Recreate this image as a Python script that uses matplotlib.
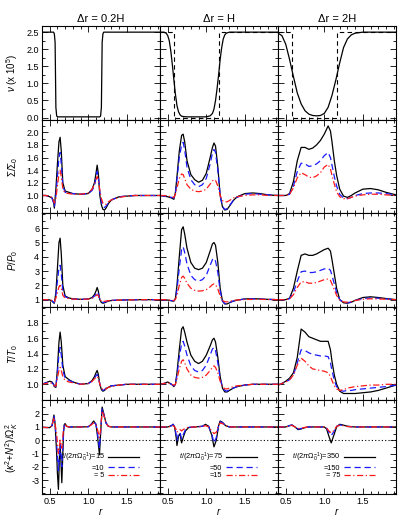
import matplotlib
matplotlib.use("Agg")
import matplotlib.pyplot as plt
from matplotlib.ticker import MultipleLocator, AutoMinorLocator

plt.rcParams['font.family'] = ['Liberation Sans', 'DejaVu Sans']
plt.rcParams['mathtext.fontset'] = 'custom'
plt.rcParams['mathtext.rm'] = 'Liberation Sans'
plt.rcParams['mathtext.it'] = 'Liberation Sans:italic'
plt.rcParams['mathtext.bf'] = 'Liberation Sans:bold'
plt.rcParams['axes.unicode_minus'] = False

# ---------------- data ----------------
col_titles = ["Δr = 0.2H", "Δr = H", "Δr = 2H"]
legend_vals = [["15", "10", " 5"], ["75", "50", "15"], ["350", "150", " 75"]]

# row 1: viscosity
nu_step_r = [0.40, 0.58, 0.58, 1.17, 1.17, 1.93]
nu_step_v = [2.5, 2.5, 0.0, 0.0, 2.5, 2.5]
nu1_r = [0.40, 0.55, 0.56, 0.57, 0.575, 0.58, 0.59, 0.60, 1.15, 1.16, 1.17, 1.175, 1.18, 1.19, 1.20, 1.93]
nu1_v = [2.5, 2.5, 2.45, 2.2, 1.25, 0.3, 0.05, 0.02, 0.02, 0.05, 0.3, 1.25, 2.2, 2.45, 2.5, 2.5]
nu2_r = [0.40, 0.45, 0.48, 0.50, 0.52, 0.54, 0.56, 0.58, 0.60, 0.62, 0.64, 0.66, 0.68, 0.70, 0.75,
         1.00, 1.05, 1.08, 1.10, 1.12, 1.14, 1.16, 1.18, 1.20, 1.22, 1.24, 1.26, 1.30, 1.93]
nu2_v = [2.5, 2.5, 2.47, 2.4, 2.25, 1.95, 1.55, 1.1, 0.68, 0.35, 0.17, 0.08, 0.04, 0.03, 0.02,
         0.02, 0.05, 0.12, 0.25, 0.5, 0.85, 1.25, 1.7, 2.05, 2.3, 2.42, 2.47, 2.5, 2.5]
nu3_r = [0.40, 0.45, 0.50, 0.55, 0.60, 0.65, 0.70, 0.75, 0.80, 0.85, 0.90, 0.95, 1.00, 1.05,
         1.10, 1.15, 1.20, 1.25, 1.30, 1.35, 1.40, 1.50, 1.93]
nu3_v = [2.47, 2.4, 2.15, 1.7, 1.2, 0.72, 0.4, 0.2, 0.1, 0.06, 0.05, 0.06, 0.12, 0.3,
         0.65, 1.1, 1.6, 2.05, 2.3, 2.42, 2.47, 2.5, 2.5]

# column 1 (dr = 0.2H), rows 2-4
r1 = [0.40, 0.45, 0.50, 0.53, 0.55, 0.56, 0.58, 0.60, 0.62, 0.635, 0.65, 0.67, 0.70, 0.75, 0.80,
      0.90, 1.00, 1.05, 1.08, 1.10, 1.115, 1.13, 1.15, 1.17, 1.19, 1.21, 1.23, 1.26, 1.30, 1.40,
      1.50, 1.60, 1.70, 1.80, 1.93]
sig1_a = [1.0, 1.0, 0.98, 0.96, 0.9, 0.8, 1.1, 1.5, 1.85, 1.92, 1.7, 1.2, 1.07, 1.05, 1.03,
          1.02, 1.03, 1.1, 1.2, 1.35, 1.48, 1.35, 1.0, 0.85, 0.78, 0.77, 0.8, 0.87, 0.93, 0.98,
          0.99, 1.0, 1.0, 1.0, 1.0]
sig1_b = [1.0, 1.0, 0.99, 0.96, 0.88, 0.82, 1.0, 1.3, 1.6, 1.68, 1.5, 1.15, 1.05, 1.04, 1.03,
          1.02, 1.03, 1.08, 1.15, 1.28, 1.38, 1.3, 1.05, 0.9, 0.82, 0.81, 0.83, 0.88, 0.93, 0.98,
          0.99, 1.0, 1.0, 1.0, 1.0]
sig1_c = [1.0, 1.0, 0.99, 0.97, 0.92, 0.88, 0.95, 1.15, 1.35, 1.4, 1.3, 1.1, 1.04, 1.03, 1.02,
          1.02, 1.04, 1.1, 1.18, 1.25, 1.3, 1.25, 1.08, 0.95, 0.88, 0.86, 0.86, 0.9, 0.93, 0.97,
          0.99, 1.0, 1.0, 1.0, 1.0]
p1_a = [1.0, 1.0, 0.98, 0.9, 0.78, 0.75, 1.5, 3.2, 5.0, 5.3, 4.2, 2.0, 1.25, 1.12, 1.06,
        1.02, 1.04, 1.15, 1.35, 1.6, 1.85, 1.6, 1.0, 0.8, 0.75, 0.78, 0.83, 0.9, 0.94, 0.97,
        0.98, 0.99, 1.0, 1.0, 1.0]
p1_b = [1.0, 1.0, 0.98, 0.92, 0.82, 0.8, 1.3, 2.3, 3.2, 3.4, 2.8, 1.6, 1.2, 1.1, 1.05,
        1.02, 1.04, 1.12, 1.25, 1.4, 1.55, 1.4, 1.0, 0.85, 0.8, 0.82, 0.86, 0.91, 0.95, 0.97,
        0.98, 0.99, 1.0, 1.0, 1.0]
p1_c = [1.0, 1.0, 0.99, 0.94, 0.88, 0.86, 1.1, 1.5, 1.9, 2.0, 1.8, 1.3, 1.12, 1.07, 1.04,
        1.02, 1.04, 1.1, 1.2, 1.28, 1.35, 1.28, 1.02, 0.9, 0.88, 0.88, 0.9, 0.93, 0.95, 0.97,
        0.98, 0.99, 1.0, 1.0, 1.0]
t1_a = [1.0, 1.02, 1.04, 1.03, 1.0, 0.97, 0.96, 1.2, 1.55, 1.68, 1.55, 1.25, 1.1, 1.06, 1.03,
        1.0, 1.01, 1.05, 1.1, 1.15, 1.18, 1.13, 1.0, 0.93, 0.91, 0.92, 0.94, 0.96, 0.98, 0.99,
        1.0, 1.0, 1.0, 1.0, 1.0]
t1_b = [1.0, 1.02, 1.03, 1.02, 1.0, 0.98, 0.97, 1.15, 1.4, 1.48, 1.38, 1.18, 1.08, 1.05, 1.03,
        1.0, 1.01, 1.04, 1.08, 1.11, 1.13, 1.1, 1.0, 0.94, 0.92, 0.93, 0.95, 0.97, 0.98, 0.99,
        1.0, 1.0, 1.0, 1.0, 1.0]
t1_c = [1.0, 1.01, 1.02, 1.01, 1.0, 0.98, 0.98, 1.08, 1.18, 1.22, 1.18, 1.1, 1.05, 1.03, 1.02,
        1.0, 1.01, 1.04, 1.07, 1.09, 1.1, 1.08, 1.0, 0.95, 0.93, 0.93, 0.94, 0.96, 0.97, 0.99,
        1.0, 1.0, 1.0, 1.0, 1.0]

# column 2 (dr = H), rows 2-4
r2 = [0.40, 0.45, 0.50, 0.55, 0.58, 0.60, 0.62, 0.65, 0.68, 0.70, 0.72, 0.75, 0.80, 0.85, 0.90,
      0.95, 1.00, 1.05, 1.08, 1.10, 1.12, 1.15, 1.18, 1.21, 1.24, 1.27, 1.30, 1.35, 1.40, 1.50,
      1.60, 1.70, 1.80, 1.93]
sig2_a = [1.0, 0.99, 0.98, 0.96, 0.94, 1.05, 1.3, 1.7, 1.95, 1.97, 1.85, 1.55, 1.33, 1.25, 1.21,
          1.24, 1.35, 1.6, 1.76, 1.83, 1.78, 1.45, 1.0, 0.82, 0.77, 0.78, 0.83, 0.92, 0.98, 1.03,
          1.04, 1.03, 1.01, 1.0]
sig2_b = [1.0, 0.99, 0.98, 0.97, 0.96, 1.03, 1.25, 1.6, 1.8, 1.84, 1.72, 1.45, 1.25, 1.17, 1.14,
          1.17, 1.27, 1.5, 1.67, 1.73, 1.68, 1.4, 1.0, 0.83, 0.78, 0.79, 0.84, 0.92, 0.97, 1.02,
          1.03, 1.02, 1.01, 1.0]
sig2_c = [1.0, 1.0, 0.99, 0.98, 0.97, 1.02, 1.12, 1.27, 1.34, 1.33, 1.27, 1.17, 1.1, 1.07, 1.06,
          1.07, 1.1, 1.18, 1.23, 1.25, 1.24, 1.15, 1.0, 0.92, 0.9, 0.9, 0.92, 0.96, 0.98, 1.0,
          1.01, 1.01, 1.0, 1.0]
p2_a = [1.0, 0.99, 0.97, 0.92, 0.9, 1.1, 2.0, 4.0, 5.9, 6.1, 5.6, 4.6, 3.6, 3.2, 3.1,
        3.2, 3.6, 4.4, 4.9, 5.0, 4.8, 3.6, 1.8, 0.9, 0.7, 0.7, 0.78, 0.9, 0.97, 1.05,
        1.07, 1.05, 1.02, 1.0]
p2_b = [1.0, 0.99, 0.97, 0.93, 0.92, 1.05, 1.7, 3.2, 4.5, 4.7, 4.3, 3.5, 2.7, 2.4, 2.3,
        2.4, 2.7, 3.4, 3.8, 3.9, 3.7, 2.9, 1.6, 0.9, 0.72, 0.72, 0.8, 0.9, 0.97, 1.04,
        1.06, 1.04, 1.02, 1.0]
p2_c = [1.0, 1.0, 0.98, 0.95, 0.94, 1.02, 1.3, 2.0, 2.55, 2.65, 2.5, 2.15, 1.8, 1.65, 1.6,
        1.62, 1.7, 1.9, 2.05, 2.1, 2.05, 1.75, 1.25, 0.95, 0.85, 0.85, 0.88, 0.94, 0.98, 1.01,
        1.02, 1.02, 1.01, 1.0]
t2_a = [1.0, 1.01, 1.03, 1.0, 0.97, 1.0, 1.15, 1.45, 1.72, 1.75, 1.68, 1.55, 1.38, 1.3, 1.27,
        1.3, 1.38, 1.5, 1.58, 1.6, 1.55, 1.35, 1.1, 0.95, 0.9, 0.9, 0.92, 0.95, 0.97, 0.99,
        1.0, 1.0, 1.0, 1.0]
t2_b = [1.0, 1.01, 1.02, 1.0, 0.98, 1.0, 1.12, 1.35, 1.53, 1.56, 1.5, 1.38, 1.24, 1.18, 1.16,
        1.18, 1.25, 1.38, 1.46, 1.48, 1.44, 1.28, 1.08, 0.96, 0.92, 0.91, 0.93, 0.95, 0.97, 0.99,
        1.0, 1.0, 1.0, 1.0]
t2_c = [1.0, 1.01, 1.02, 1.0, 0.99, 1.0, 1.07, 1.2, 1.3, 1.32, 1.28, 1.2, 1.12, 1.09, 1.08,
        1.09, 1.12, 1.18, 1.22, 1.24, 1.22, 1.15, 1.04, 0.97, 0.94, 0.94, 0.95, 0.97, 0.98, 0.99,
        1.0, 1.0, 1.0, 1.0]

# column 3 (dr = 2H), rows 2-4
r3 = [0.40, 0.45, 0.50, 0.55, 0.60, 0.65, 0.70, 0.75, 0.80, 0.85, 0.90, 0.95, 1.00, 1.05, 1.08,
      1.10, 1.13, 1.16, 1.20, 1.25, 1.30, 1.35, 1.40, 1.50, 1.60, 1.70, 1.80, 1.93]
sig3_a = [1.0, 1.0, 1.0, 1.03, 1.22, 1.55, 1.76, 1.76, 1.73, 1.75, 1.8, 1.87, 1.97, 2.1, 2.02,
          1.85, 1.55, 1.32, 1.1, 0.99, 0.97, 1.0, 1.04, 1.1, 1.11, 1.09, 1.05, 1.01]
sig3_b = [1.0, 1.0, 1.0, 1.02, 1.15, 1.38, 1.51, 1.5, 1.46, 1.47, 1.5, 1.55, 1.63, 1.68, 1.6,
          1.48, 1.3, 1.15, 1.02, 0.96, 0.95, 0.97, 1.0, 1.03, 1.04, 1.04, 1.03, 1.01]
sig3_c = [1.0, 1.0, 1.0, 1.02, 1.12, 1.28, 1.36, 1.33, 1.29, 1.28, 1.31, 1.36, 1.45, 1.49, 1.42,
          1.32, 1.18, 1.06, 0.98, 0.95, 0.95, 0.97, 0.99, 1.01, 1.02, 1.02, 1.01, 1.0]
p3_a = [1.0, 1.0, 1.0, 1.1, 1.8, 3.0, 4.1, 4.2, 4.1, 4.1, 4.2, 4.35, 4.5, 4.6, 4.4,
        3.8, 2.8, 1.8, 1.0, 0.78, 0.75, 0.82, 0.95, 1.15, 1.2, 1.15, 1.08, 1.0]
p3_b = [1.0, 1.0, 1.0, 1.07, 1.5, 2.3, 2.95, 3.0, 2.9, 2.9, 2.95, 3.05, 3.15, 3.2, 3.05,
        2.7, 2.1, 1.5, 1.0, 0.8, 0.78, 0.84, 0.94, 1.08, 1.12, 1.1, 1.05, 1.0]
p3_c = [1.0, 1.0, 1.0, 1.05, 1.35, 1.85, 2.25, 2.25, 2.15, 2.15, 2.2, 2.3, 2.4, 2.45, 2.35,
        2.1, 1.7, 1.3, 0.98, 0.84, 0.82, 0.86, 0.94, 1.03, 1.06, 1.05, 1.03, 1.0]
t3_a = [0.99, 1.01, 1.04, 1.08, 1.15, 1.35, 1.72, 1.68, 1.62, 1.6, 1.58, 1.56, 1.56, 1.56, 1.45,
        1.3, 1.12, 1.0, 0.91, 0.88, 0.88, 0.88, 0.88, 0.89, 0.9, 0.92, 0.95, 0.99]
t3_b = [0.99, 1.01, 1.03, 1.06, 1.12, 1.28, 1.45, 1.44, 1.41, 1.39, 1.38, 1.37, 1.37, 1.36, 1.28,
        1.18, 1.05, 0.97, 0.92, 0.91, 0.92, 0.92, 0.93, 0.94, 0.95, 0.96, 0.97, 0.99]
t3_c = [0.99, 1.01, 1.03, 1.06, 1.12, 1.25, 1.34, 1.3, 1.24, 1.2, 1.19, 1.18, 1.17, 1.15, 1.1,
        1.05, 0.98, 0.94, 0.92, 0.93, 0.95, 0.96, 0.97, 0.98, 0.99, 0.99, 1.0, 1.0]

# row 5: (kappa^2 + N^2)/Omega_K^2
k1_r = [0.40, 0.50, 0.53, 0.555, 0.57, 0.59, 0.60, 0.613, 0.625, 0.635, 0.645, 0.657, 0.67, 0.68,
        0.69, 0.70, 0.72, 0.75, 0.80, 0.90, 1.00, 1.03, 1.07, 1.10, 1.12, 1.145, 1.16, 1.18, 1.20,
        1.23, 1.26, 1.30, 1.40, 1.60, 1.93]
k1_a = [0.97, 0.95, 1.1, 1.9, 1.2, -1.0, -2.5, -3.7, -1.5, -0.3, -1.5, -3.2, -1.0, 0.7,
        1.2, 1.25, 1.05, 1.0, 1.0, 1.0, 1.02, 1.15, 1.45, 1.2, 0.3, -1.1, 0.5, 2.5, 2.0,
        1.3, 1.05, 1.0, 1.0, 1.0, 1.0]
k1_b = [0.97, 0.95, 1.1, 1.8, 1.2, -0.3, -1.2, -2.3, -1.2, -0.3, -1.0, -2.0, -0.5, 0.7,
        1.15, 1.2, 1.05, 1.0, 1.0, 1.0, 1.02, 1.15, 1.4, 1.2, 0.5, -0.6, 0.6, 2.4, 2.0,
        1.3, 1.05, 1.0, 1.0, 1.0, 1.0]
k1_c = [0.97, 0.95, 1.1, 1.7, 1.2, 0.5, -0.3, -1.0, -0.5, 0.0, -0.3, -0.6, 0.3, 0.9,
        1.1, 1.15, 1.05, 1.0, 1.0, 1.0, 1.02, 1.12, 1.3, 1.2, 0.8, 0.2, 0.8, 2.2, 1.9,
        1.3, 1.05, 1.0, 1.0, 1.0, 1.0]
k2_r = [0.40, 0.50, 0.55, 0.57, 0.59, 0.61, 0.62, 0.64, 0.66, 0.68, 0.70, 0.73, 0.77, 0.85, 0.95,
        0.99, 1.03, 1.07, 1.10, 1.13, 1.16, 1.18, 1.21, 1.25, 1.30, 1.50, 1.93]
k2_a = [1.0, 1.0, 1.1, 1.2, 1.0, 0.2, -0.4, 0.3, 0.5, -0.2, 0.2, 0.7, 0.95, 1.0, 1.05,
        1.2, 1.05, 0.4, -0.5, 0.0, 1.1, 1.45, 1.35, 1.1, 1.0, 1.0, 1.0]
k2_b = [1.0, 1.0, 1.1, 1.2, 1.0, 0.4, 0.0, 0.5, 0.6, 0.1, 0.4, 0.8, 0.97, 1.0, 1.05,
        1.18, 1.05, 0.5, -0.2, 0.2, 1.1, 1.4, 1.32, 1.1, 1.0, 1.0, 1.0]
k2_c = [1.0, 1.0, 1.05, 1.1, 1.0, 0.8, 0.6, 0.75, 0.8, 0.7, 0.8, 0.9, 0.98, 1.0, 1.03,
        1.1, 1.0, 0.7, 0.5, 0.6, 1.1, 1.3, 1.25, 1.1, 1.0, 1.0, 1.0]
k3_r = [0.40, 0.50, 0.55, 0.58, 0.62, 0.66, 0.70, 0.75, 0.80, 0.90, 1.00, 1.03, 1.06, 1.09, 1.12,
        1.16, 1.20, 1.24, 1.30, 1.40, 1.60, 1.93]
k3_a = [1.0, 1.0, 1.1, 1.15, 1.0, 0.8, 0.85, 0.95, 1.0, 1.0, 1.0, 0.85, 0.3, -0.2, 0.3,
        1.0, 1.2, 1.15, 1.05, 1.0, 1.0, 1.0]
k3_b = [1.0, 1.0, 1.1, 1.15, 1.0, 0.85, 0.88, 0.96, 1.0, 1.0, 1.0, 0.9, 0.6, 0.35, 0.6,
        1.05, 1.15, 1.12, 1.04, 1.0, 1.0, 1.0]
k3_c = [1.0, 1.0, 1.08, 1.12, 1.0, 0.88, 0.9, 0.97, 1.0, 1.0, 1.0, 0.92, 0.7, 0.55, 0.7,
        1.05, 1.12, 1.1, 1.03, 1.0, 1.0, 1.0]

# ---------------- figure ----------------
fig = plt.figure(figsize=(4.15, 5.2), dpi=100)
gs = fig.add_gridspec(5, 3, left=42/415, right=396/415, top=1-26/520, bottom=1-494/520,
                      wspace=0, hspace=0)
axes = [[fig.add_subplot(gs[i, j]) for j in range(3)] for i in range(5)]

xlim = (0.40, 1.93)
ylims = [(-0.06, 2.68), (0.72, 2.2), (0.5, 7.05), (0.79, 2.01), (-4.05, 3.0)]
yticks = [[0.0, 0.5, 1.0, 1.5, 2.0, 2.5],
          [0.8, 1.0, 1.2, 1.4, 1.6, 1.8, 2.0],
          [1, 2, 3, 4, 5, 6],
          [1.0, 1.2, 1.4, 1.6, 1.8],
          [-3, -2, -1, 0, 1, 2]]
ylabels = [r"$\nu$ (x 10$^5$)", r"$\Sigma/\Sigma_0$", r"$P/P_0$", r"$T/T_0$",
           r"$(\kappa^2\!+\!N^2)/\Omega_K^2$"]

styles = [dict(color='black', ls='-', lw=0.9),
          dict(color='#1a1aff', ls=(0, (5, 3)), lw=0.9),
          dict(color='#ff1a1a', ls=(0, (5, 2, 1, 2)), lw=0.9)]

prof_r = [r1, r2, r3]
sig = [[sig1_a, sig1_b, sig1_c], [sig2_a, sig2_b, sig2_c], [sig3_a, sig3_b, sig3_c]]
prs = [[p1_a, p1_b, p1_c], [p2_a, p2_b, p2_c], [p3_a, p3_b, p3_c]]
tem = [[t1_a, t1_b, t1_c], [t2_a, t2_b, t2_c], [t3_a, t3_b, t3_c]]
k_r = [k1_r, k2_r, k3_r]
kap = [[k1_a, k1_b, k1_c], [k2_a, k2_b, k2_c], [k3_a, k3_b, k3_c]]
nu_r = [nu1_r, nu2_r, nu3_r]
nu_v = [nu1_v, nu2_v, nu3_v]

for j in range(3):
    ax = axes[0][j]
    if j > 0:
        ax.plot(nu_step_r, nu_step_v, color='black', ls=(0, (4, 3)), lw=0.8)
    ax.plot(nu_r[j], nu_v[j], color='black', lw=0.9)
    for k in range(3):
        axes[1][j].plot(prof_r[j], sig[j][k], **styles[k])
        axes[2][j].plot(prof_r[j], prs[j][k], **styles[k])
        axes[3][j].plot(prof_r[j], tem[j][k], **styles[k])
    axes[4][j].axhline(0, color='black', ls=(0, (1, 2)), lw=0.8)
    lines = []
    for k in range(3):
        ln, = axes[4][j].plot(k_r[j], kap[j][k], **styles[k])
        lines.append(ln)
    labs = [r"$t/(2\pi\Omega_0^{-1})$=" + legend_vals[j][0],
            "=" + legend_vals[j][1], "=" + legend_vals[j][2]]
    leg = axes[4][j].legend(lines, labs, loc='lower right', bbox_to_anchor=(0.86, 0.11),
                            frameon=False, markerfirst=False, fontsize=5.3,
                            handlelength=4.2, handleheight=0.5, handletextpad=0.5,
                            labelspacing=0.1, borderpad=0.1)
    for col in leg._legend_handle_box.get_children():
        col.align = "right"
    axes[0][j].set_title(col_titles[j], fontsize=8, pad=3)

for i in range(5):
    for j in range(3):
        ax = axes[i][j]
        ax.set_xlim(*xlim)
        ax.set_yticks(yticks[i])
        ax.set_ylim(*ylims[i])
        ax.xaxis.set_major_locator(MultipleLocator(0.5))
        ax.xaxis.set_minor_locator(MultipleLocator(0.1))
        ax.yaxis.set_minor_locator(AutoMinorLocator(2))
        ax.tick_params(which='both', direction='in', top=True, right=True, labelsize=6.5,
                       width=0.6, pad=2)
        ax.tick_params(which='major', length=4)
        ax.tick_params(which='minor', length=2)
        for s in ax.spines.values():
            s.set_linewidth(0.8)
        if j > 0:
            ax.tick_params(labelleft=False)
        if i < 4:
            ax.tick_params(labelbottom=False)
        else:
            ax.set_xlabel(r"$r$", fontsize=7, labelpad=0)
    axes[i][0].set_ylabel(ylabels[i], fontsize=7)
    axes[i][0].yaxis.set_label_coords(-0.19, 0.5)

fig.savefig("out.png", dpi=100)
